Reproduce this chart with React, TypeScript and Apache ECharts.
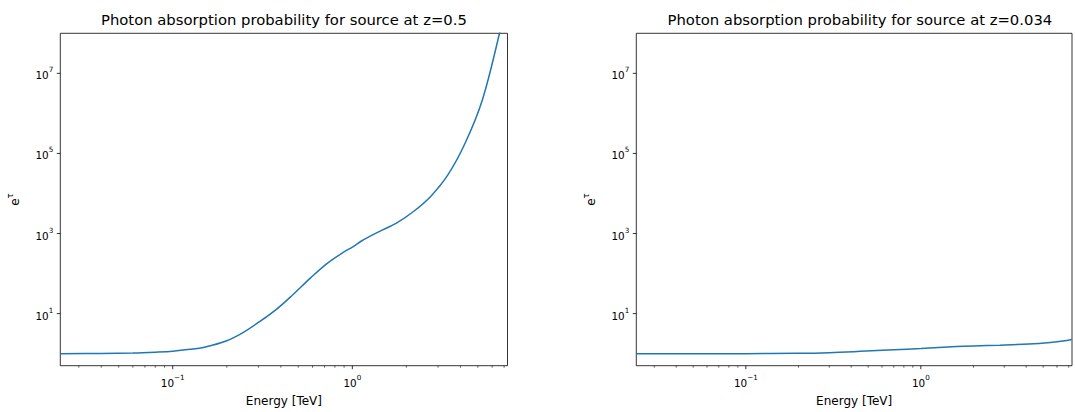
import React, { useEffect, useRef } from "react";
import * as echarts from "echarts";

// ---- data ----
const X_MIN = 0.02366;
const X_MAX = 7.31;
const Y_MIN = 0.5;
const Y_MAX = 1e8;

const titles = [
  "Photon absorption probability for source at z=0.5",
  "Photon absorption probability for source at z=0.034",
];

const energyZ05 = [0.0237, 0.04, 0.06, 0.08, 0.1, 0.125, 0.15, 0.2, 0.25, 0.3, 0.376, 0.468, 0.584, 0.728, 0.908, 1.0, 1.13, 1.41, 1.76, 2.19, 2.73, 3.41, 4.25, 5.3, 6.6, 7.2];
const tauZ05 = [1.0, 1.01, 1.04, 1.09, 1.15, 1.28, 1.45, 2.1, 3.5, 6.0, 12.6, 30, 77, 182, 357, 458, 660, 1120, 1820, 3550, 8450, 29500, 182000, 2.2e6, 1e8, 6e8];

const energyZ0034 = [0.0237, 0.1, 0.193, 0.3, 0.45, 0.7, 1.0, 1.6, 2.0, 2.83, 4.15, 5.5, 6.5, 7.3];
const tauZ0034 = [1.0, 1.0, 1.02, 1.06, 1.14, 1.25, 1.34, 1.5, 1.56, 1.63, 1.74, 1.9, 2.06, 2.25];

const xMajorTicks = [0.1, 1];
const xMinorTicks = [0.03, 0.04, 0.05, 0.06, 0.07, 0.08, 0.09, 0.2, 0.3, 0.4, 0.5, 0.6, 0.7, 0.8, 0.9, 2, 3, 4, 5, 6, 7];
const yMajorTicks = [10, 1e3, 1e5, 1e7];

const FONT = "DejaVu Sans";
const LINE_COLOR = "#1f77b4";

const supMap: Record<string, string> = { "-": "\u2212" };
const fmtExp = (e: number) => String(e).split("").map((c) => supMap[c] || c).join("");

const richLabel = {
  b: { fontSize: 10.4, fontFamily: FONT, color: "#000", verticalAlign: "bottom", lineHeight: 14 },
  s: { fontSize: 7.2, fontFamily: FONT, color: "#000", verticalAlign: "top", lineHeight: 14 },
};
const richName = {
  b: { fontSize: 12, fontFamily: FONT, color: "#000", verticalAlign: "bottom", lineHeight: 16 },
  s: { fontSize: 8.5, fontFamily: FONT, color: "#000", verticalAlign: "top", lineHeight: 16 },
};

const powLabel = (onlyOdd: boolean) => (v: number) => {
  const l = Math.log10(v);
  const e = Math.round(l);
  if (Math.abs(l - e) > 1e-6) return "";
  if (onlyOdd && Math.abs(e) % 2 !== 1) return "";
  return `{b|10}{s|${fmtExp(e)}}`;
};

const grids = [
  { left: 60.3, top: 33.3, width: 447.2, height: 332.4 },
  { left: 636.3, top: 33.3, width: 447.2, height: 332.4 },
];

function tickSeries(gi: number, data: number[][], len: number, w: number, dir: "down" | "left") {
  return {
    type: "custom",
    xAxisIndex: gi,
    yAxisIndex: gi,
    silent: true,
    clip: false,
    z: 5,
    data,
    renderItem: (_p: any, api: any) => {
      const p = api.coord([api.value(0), api.value(1)]);
      const shape =
        dir === "down"
          ? { x1: p[0], y1: p[1], x2: p[0], y2: p[1] + len }
          : { x1: p[0], y1: p[1], x2: p[0] - len, y2: p[1] };
      return { type: "line", shape, style: { stroke: "#000", lineWidth: w } };
    },
  };
}

export default function App() {
  const ref = useRef<HTMLDivElement>(null);
  useEffect(() => {
    if (!ref.current) return;
    const chart = echarts.init(ref.current, null, { renderer: "svg" });
    const lines = [
      energyZ05.map((e, i) => [e, tauZ05[i]]),
      energyZ0034.map((e, i) => [e, tauZ0034[i]]),
    ];
    const xAxis = grids.map((_, gi) => ({
      type: "log",
      gridIndex: gi,
      min: X_MIN,
      max: X_MAX,
      logBase: 10,
      name: "Energy [TeV]",
      nameLocation: "middle",
      nameGap: 29,
      nameTextStyle: { fontFamily: FONT, fontSize: 12, color: "#000" },
      axisLine: { show: false },
      axisTick: { show: false },
      splitLine: { show: false },
      axisLabel: { margin: 8, formatter: powLabel(false), rich: richLabel },
    }));
    const yAxis = grids.map((_, gi) => ({
      type: "log",
      gridIndex: gi,
      min: Y_MIN,
      max: Y_MAX,
      logBase: 10,
      name: "{b|e}{s|\u03c4}",
      nameLocation: "middle",
      nameGap: 39,
      nameRotate: 90,
      nameTextStyle: { rich: richName },
      axisLine: { show: false },
      axisTick: { show: false },
      splitLine: { show: false },
      axisLabel: { margin: 7, formatter: powLabel(true), rich: richLabel },
    }));
    const series: any[] = [];
    grids.forEach((_, gi) => {
      series.push({
        type: "line",
        xAxisIndex: gi,
        yAxisIndex: gi,
        data: lines[gi],
        showSymbol: false,
        smooth: 0.35,
        clip: true,
        lineStyle: { color: LINE_COLOR, width: 1.5 },
        z: 3,
      });
      series.push(tickSeries(gi, xMajorTicks.map((x) => [x, Y_MIN]), 3.5, 0.8, "down"));
      series.push(tickSeries(gi, xMinorTicks.map((x) => [x, Y_MIN]), 2, 0.6, "down"));
      series.push(tickSeries(gi, yMajorTicks.map((y) => [X_MIN, y]), 3.5, 0.8, "left"));
    });
    chart.setOption({
      animation: false,
      backgroundColor: "#fff",
      title: titles.map((t, gi) => ({
        text: t,
        left: grids[gi].left + grids[gi].width / 2,
        top: 12,
        textAlign: "center",
        padding: 0,
        textStyle: { fontFamily: FONT, fontSize: 14.8, fontWeight: "normal", color: "#000" },
      })),
      grid: grids.map((g) => ({ ...g, show: true, borderColor: "#000", borderWidth: 0.8, backgroundColor: "transparent" })),
      xAxis,
      yAxis,
      series,
    });
    return () => chart.dispose();
  }, []);
  return (
    <div
      ref={ref}
      style={{ position: "fixed", left: 0, top: 0, width: 1075, height: 412, overflow: "hidden", background: "#fff" }}
    />
  );
}
